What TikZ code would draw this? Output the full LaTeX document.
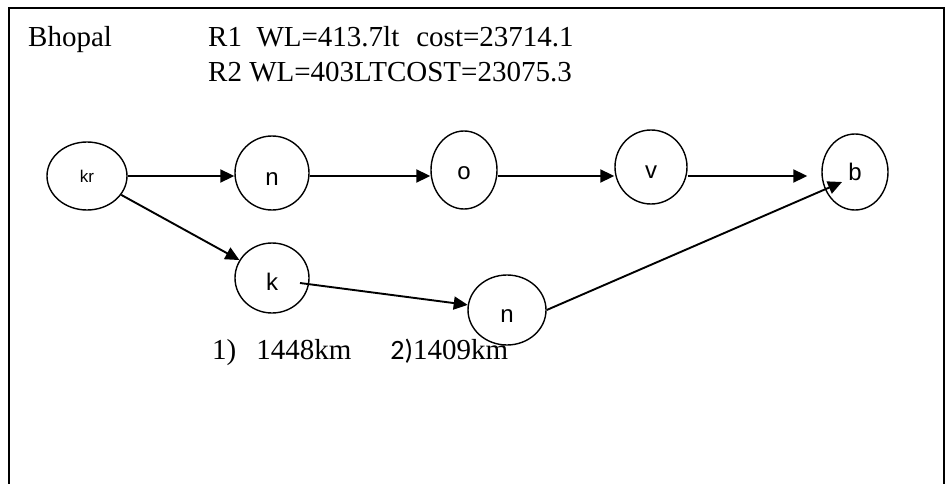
\documentclass[tikz,border=0pt]{standalone}
\usepackage{fontspec}
\setmainfont{Liberation Serif}
\newfontfamily\lblfont{Liberation Sans}
\newfontfamily\calfont{Carlito}
\usetikzlibrary{shapes.geometric,arrows.meta}

% node text whose baseline sits #1 below the node centre
\newcommand{\lowlbl}[2]{\smash{\raisebox{-#1}{#2}}}

\tikzset{
  city/.style={draw, ellipse, line width=1.4pt, inner sep=0pt,
    font=\lblfont\fontsize{24}{24}\selectfont},
  arr/.style={line width=1.9pt, -{Triangle[length=14pt,width=13pt]}},
  note/.style={anchor=base west, inner sep=0pt,
    font=\fontsize{29}{35}\selectfont}
}

\begin{document}
\begin{tikzpicture}[x=1pt,y=-1pt]
\useasboundingbox (0,0) rectangle (952,484);

% outer frame (open at the bottom)
\draw[line width=1.2pt] (9,484) -- (9,8) -- (944,8) -- (944,484);

% heading texts
\node[note] (city) at (28,47) {Bhopal};
\node[note] (r1) at (208,47) {R1\ \ WL=413.7lt\hspace{17pt}cost=23714.1};
\node[note] (r2) at (208,82) {R2 WL=403LTCOST=23075.3};

% route nodes
\node[city, minimum width=80pt, minimum height=68pt,
      font=\lblfont\fontsize{17}{17}\selectfont] (kr) at (87,176) {\lowlbl{6pt}{kr}};
\node[city, minimum width=74pt, minimum height=74pt] (n1) at (272,173) {\lowlbl{12pt}{n}};
\node[city, minimum width=66pt, minimum height=78pt] (o) at (464,170) {\lowlbl{9pt}{o}};
\node[city, minimum width=72pt, minimum height=74pt] (v) at (651,167) {\lowlbl{11pt}{v}};
\node[city, minimum width=66pt, minimum height=76pt] (b) at (855,172) {\lowlbl{8pt}{b}};
\node[city, minimum width=74pt, minimum height=70pt] (k) at (272,278) {\lowlbl{12pt}{k}};
\node[city, minimum width=78pt, minimum height=70pt] (n2) at (507,310) {\lowlbl{12pt}{n}};

% route 1 (upper row)
\draw[arr] (kr.east) -- (n1.west |- kr.east);
\draw[arr] (n1.east |- kr.east) -- (o.west |- kr.east);
\draw[arr] (o.east |- kr.east) -- (v.west |- kr.east);
\draw[arr, shorten >=14pt] (v.east |- kr.east) -- (b.west |- kr.east);

% route 2 (lower row)
\draw[arr] (kr) -- (k);
\draw[arr] ([shift={(28,5)}]k.center) -- (n2);
\draw[arr] (n2.east) -- ([shift={(-13,10)}]b.center);

% distances
\node[note] (dist) at (212,359)
  {1)\hspace{20pt}1448km\hspace{39pt}{\calfont\fontsize{28}{35}\selectfont 2)}1409km};
\end{tikzpicture}
\end{document}
